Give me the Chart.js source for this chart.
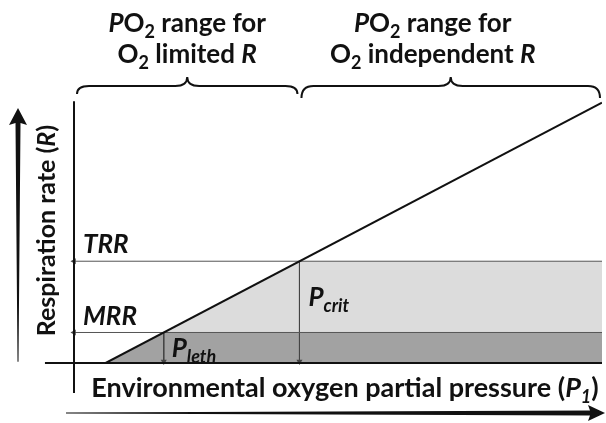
<!DOCTYPE html>
<html>
<head>
<meta charset="utf-8">
<script src="https://cdn.jsdelivr.net/npm/chart.js@4/dist/chart.umd.min.js"></script>
<style>
  html, body { margin: 0; padding: 0; background: #fff; }
  #wrap { width: 606px; height: 423px; }
</style>
</head>
<body>
<div id="wrap"><canvas id="respChart"></canvas></div>
<script>
// Oxygen supply curve: respiration rate rises linearly with PO2
const pressure = [6, 100];
const respiration = [0, 99];

// Reference respiration levels (total and maintenance)
const levelNames = ['TRR', 'MRR'];
const levelRates = [38.7, 11.6];

// Threshold pressures where the supply line crosses each level
const thresholdNames = ['crit', 'leth'];
const thresholdPressures = [42.7, 17];

// Ranges marked with braces above the plot
const rangeBounds = [0, 42.7, 100];
const rangeLabels = [
  [[['P', 'i'], ['O'], ['2', 's'], [' range for']], [['O'], ['2', 's'], [' limited '], ['R', 'i']]],
  [[['P', 'i'], ['O'], ['2', 's'], [' range for']], [['O'], ['2', 's'], [' independent '], ['R', 'i']]]
];

const FONT = 'Lato, "Open Sans", sans-serif';
const trr = levelRates[0], mrr = levelRates[1];
const pCrit = thresholdPressures[0], pLeth = thresholdPressures[1];

function runFont(style, size) {
  const italic = style && style.indexOf('i') >= 0 ? 'italic ' : '';
  const sub = style && style.indexOf('s') >= 0;
  return italic + 'bold ' + Math.round(sub ? size * 0.68 : size) + 'px ' + FONT;
}

// draws a run list such as P + O + subscript 2; align 'left' or 'center'
function drawRich(ctx, runs, x, y, size, align) {
  let total = 0;
  runs.forEach(r => { ctx.font = runFont(r[1], size); total += ctx.measureText(r[0]).width; });
  let cx = align === 'center' ? x - total / 2 : x;
  ctx.textBaseline = 'alphabetic';
  ctx.textAlign = 'left';
  runs.forEach(r => {
    ctx.font = runFont(r[1], size);
    const sub = r[1] && r[1].indexOf('s') >= 0;
    ctx.fillText(r[0], cx, sub ? y + size * 0.22 : y);
    cx += ctx.measureText(r[0]).width;
  });
}

function drawBrace(ctx, x1, x2, yLine, yEnd, yTip) {
  const m = (x1 + x2) / 2, r = 12;
  ctx.beginPath();
  ctx.moveTo(x1, yEnd);
  ctx.quadraticCurveTo(x1, yLine, x1 + r, yLine);
  ctx.lineTo(m - r, yLine);
  ctx.quadraticCurveTo(m, yLine, m, yTip);
  ctx.quadraticCurveTo(m, yLine, m + r, yLine);
  ctx.lineTo(x2 - r, yLine);
  ctx.quadraticCurveTo(x2, yLine, x2, yEnd);
  ctx.stroke();
}

const decorations = {
  id: 'decorations',
  afterDatasetsDraw(chart) {
    const ctx = chart.ctx;
    const xs = chart.scales.x, ys = chart.scales.y;
    const x0 = xs.getPixelForValue(0), y0 = ys.getPixelForValue(0);
    ctx.save();
    ctx.strokeStyle = '#111';
    ctx.fillStyle = '#111';

    // crossing axes
    ctx.lineWidth = 2;
    ctx.beginPath();
    ctx.moveTo(xs.getPixelForValue(-5.5), y0);
    ctx.lineTo(xs.getPixelForValue(100), y0);
    ctx.moveTo(x0, ys.getPixelForValue(99.5));
    ctx.lineTo(x0, ys.getPixelForValue(-11.4));
    ctx.stroke();

    // vertical arrow beside the y title (tapered)
    const ax = x0 - 56, aTop = ys.getPixelForValue(97), aBot = ys.getPixelForValue(0.5);
    ctx.beginPath();
    ctx.moveTo(ax - 0.5, aBot);
    ctx.lineTo(ax + 0.5, aBot);
    ctx.lineTo(ax + 2.5, aTop + 15);
    ctx.lineTo(ax + 9, aTop + 17);
    ctx.lineTo(ax, aTop);
    ctx.lineTo(ax - 9, aTop + 17);
    ctx.lineTo(ax - 2.5, aTop + 15);
    ctx.closePath();
    ctx.fill();

    // horizontal arrow under the x title (tapered)
    const by = y0 + 50, bL = x0 - 8, bR = chart.width - 1;
    ctx.beginPath();
    ctx.moveTo(bL, by - 0.5);
    ctx.lineTo(bR - 15, by - 2.5);
    ctx.lineTo(bR - 17, by - 8);
    ctx.lineTo(bR, by);
    ctx.lineTo(bR - 17, by + 8);
    ctx.lineTo(bR - 15, by + 2.5);
    ctx.lineTo(bL, by + 0.5);
    ctx.closePath();
    ctx.fill();

    // braces and range captions
    ctx.lineWidth = 2;
    for (let i = 0; i < rangeLabels.length; i++) {
      const a = xs.getPixelForValue(rangeBounds[i]) + (i === 0 ? 3 : 2);
      const b = xs.getPixelForValue(rangeBounds[i + 1]) - 2;
      drawBrace(ctx, a, b, 86, i === 0 ? 94 : 98, 77);
      const cx = i === 0 ? (a + b) / 2 : (a + b) / 2 - 18;
      drawRich(ctx, rangeLabels[i][0], cx, 32, 26, 'center');
      drawRich(ctx, rangeLabels[i][1], cx, 63, 26, 'center');
    }

    // axis titles
    drawRich(ctx, [['Environmental oxygen partial pressure ('], ['P', 'i'], ['1', 'si'], [')']],
      (x0 + chart.width) / 2 + 5, y0 + 34, 27, 'center');
    ctx.save();
    ctx.translate(x0 - 19, (ys.getPixelForValue(100) + y0) / 2 - 1);
    ctx.rotate(-Math.PI / 2);
    drawRich(ctx, [['Respiration rate ('], ['R', 'i'], [')']], 0, 0, 25, 'center');
    ctx.restore();

    // level and threshold labels
    const levelGap = [8, 7];
    levelNames.forEach((name, i) => {
      drawRich(ctx, [[name, 'i']], x0 + 9, ys.getPixelForValue(levelRates[i]) - levelGap[i], 26, 'left');
    });
    drawRich(ctx, [['P', 'i'], [thresholdNames[0], 'si']], xs.getPixelForValue(pCrit) + 9,
      ys.getPixelForValue(trr) + 45, 26, 'left');
    drawRich(ctx, [['P', 'i'], [thresholdNames[1], 'si']], xs.getPixelForValue(pLeth) + 8,
      y0 - 6, 26, 'left');
    ctx.restore();
  }
};

const lineStyle = { showLine: true, pointRadius: 0, borderJoinStyle: 'miter' };
const arrowPoints = (rotation) => ({
  pointStyle: 'triangle', pointRadius: [0, 3.5], pointRotation: rotation,
  pointBackgroundColor: '#444', pointBorderColor: '#444', pointBorderWidth: 0
});

new Chart(document.getElementById('respChart'), {
  type: 'scatter',
  data: {
    datasets: [
      {
        // supply line
        data: pressure.map((p, i) => ({ x: p, y: respiration[i] })),
        ...lineStyle, borderColor: '#111', borderWidth: 2, order: 0
      },
      // TRR and MRR levels with left arrowheads
      ...levelRates.map(r => ({
        data: [{ x: 100, y: r }, { x: 0, y: r }],
        ...lineStyle, ...arrowPoints(-90), borderColor: '#555', borderWidth: 1, clip: false, order: 1
      })),
      // Pcrit and Pleth drops to the x axis
      ...thresholdPressures.map((p, i) => ({
        data: [{ x: p, y: levelRates[i] }, { x: p, y: 0.6 }],
        ...lineStyle, ...arrowPoints(180), borderColor: '#444', borderWidth: 1, clip: false, order: 1
      })),
      {
        // O2 independent zone between MRR and TRR
        data: [{ x: pLeth, y: mrr }, { x: pCrit, y: trr }, { x: 100, y: trr }],
        ...lineStyle, borderWidth: 0, borderColor: 'rgba(0,0,0,0)',
        backgroundColor: '#dcdcdc', fill: { value: mrr }, order: 3
      },
      {
        // zone below MRR
        data: [{ x: pressure[0], y: 0 }, { x: pLeth, y: mrr }, { x: 100, y: mrr }],
        ...lineStyle, borderWidth: 0, borderColor: 'rgba(0,0,0,0)',
        backgroundColor: '#a2a2a2', fill: 'origin', order: 3
      }
    ]
  },
  options: {
    responsive: true,
    maintainAspectRatio: false,
    animation: false,
    layout: { padding: { left: 74, right: 0, top: 100, bottom: 60 } },
    plugins: { legend: { display: false }, tooltip: { enabled: false } },
    scales: {
      x: { type: 'linear', min: 0, max: 100, display: false },
      y: { type: 'linear', min: 0, max: 100, display: false }
    }
  },
  plugins: [decorations]
});
</script>
</body>
</html>
